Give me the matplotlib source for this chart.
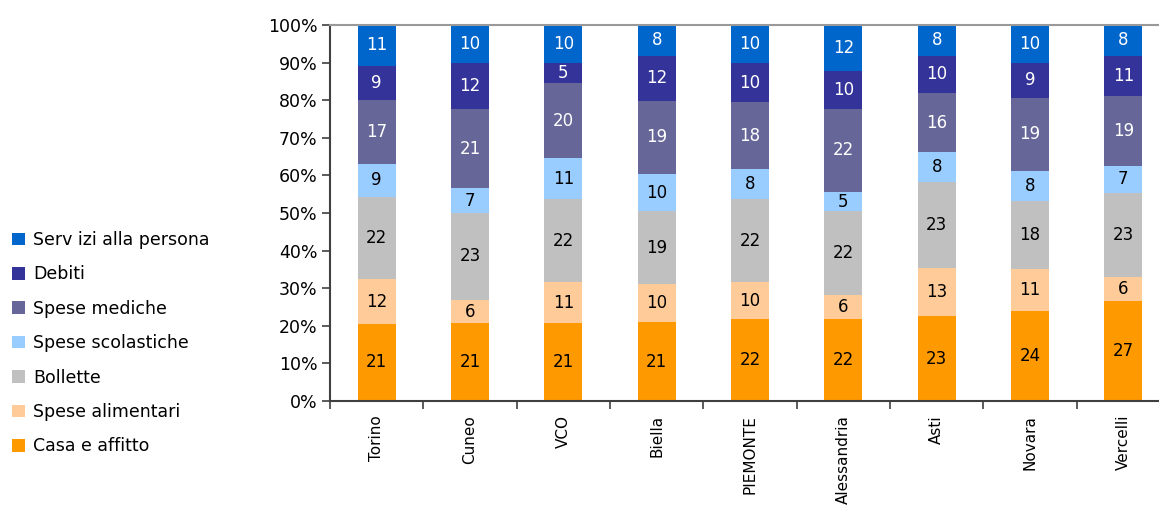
import matplotlib
matplotlib.use("Agg")
import matplotlib.pyplot as plt
from matplotlib.patches import Patch
import numpy as np

plt.rcParams['font.family'] = ['DejaVu Sans']

categories = ["Torino", "Cuneo", "VCO", "Biella", "PIEMONTE", "Alessandria", "Asti", "Novara", "Vercelli"]
series_names = ["Casa e affitto", "Spese alimentari", "Bollette", "Spese scolastiche",
                "Spese mediche", "Debiti", "Serv izi alla persona"]
colors = ["#FF9900", "#FFCC99", "#C0C0C0", "#99CCFF", "#666699", "#333399", "#0066CC"]
text_colors = ["#000000", "#000000", "#000000", "#000000", "#FFFFFF", "#FFFFFF", "#FFFFFF"]

casa = [20.5, 20.7, 20.7, 21.0, 21.8, 21.8, 22.6, 23.9, 26.6]
alimentari = [11.9, 6.2, 10.9, 10.1, 9.8, 6.4, 12.8, 11.2, 6.4]
bollette = [21.9, 23.1, 22.1, 19.4, 22.1, 22.3, 22.8, 18.1, 22.6]
scolastiche = [8.7, 6.6, 10.9, 9.9, 8.0, 5.1, 8.0, 8.0, 7.2]
mediche = [17.1, 21.1, 20.0, 19.4, 17.8, 22.1, 15.7, 19.4, 18.6]
debiti = [9.0, 12.2, 5.3, 12.0, 10.4, 10.1, 9.9, 9.3, 10.7]
servizi = [10.9, 10.1, 10.1, 8.2, 10.1, 12.2, 8.2, 10.1, 8.2]

lab_casa = [21, 21, 21, 21, 22, 22, 23, 24, 27]
lab_alimentari = [12, 6, 11, 10, 10, 6, 13, 11, 6]
lab_bollette = [22, 23, 22, 19, 22, 22, 23, 18, 23]
lab_scolastiche = [9, 7, 11, 10, 8, 5, 8, 8, 7]
lab_mediche = [17, 21, 20, 19, 18, 22, 16, 19, 19]
lab_debiti = [9, 12, 5, 12, 10, 10, 10, 9, 11]
lab_servizi = [11, 10, 10, 8, 10, 12, 8, 10, 8]

data = np.array([casa, alimentari, bollette, scolastiche, mediche, debiti, servizi], dtype=float)
labels = [lab_casa, lab_alimentari, lab_bollette, lab_scolastiche, lab_mediche, lab_debiti, lab_servizi]
pct = data / data.sum(axis=0) * 100

W, H = 1159, 507
fig = plt.figure(figsize=(W / 100, H / 100), dpi=100)
ax = fig.add_axes([330 / W, (H - 401) / H, 840 / W, 376 / H])

x = np.arange(len(categories))
bottom = np.zeros(len(categories))
handles = []
for i in range(len(series_names)):
    bars = ax.bar(x, pct[i], bottom=bottom, width=0.41, color=colors[i], linewidth=0)
    for j, b in enumerate(bars):
        ax.text(b.get_x() + b.get_width() / 2, bottom[j] + pct[i][j] / 2, str(labels[i][j]),
                ha='center', va='center', fontsize=12, color=text_colors[i])
    bottom += pct[i]
    handles.append(Patch(facecolor=colors[i], edgecolor='none', label=series_names[i]))

ax.set_xlim(-0.5, len(categories) - 0.5)
ax.set_ylim(0, 100)
ax.set_yticks(np.arange(0, 101, 10))
ax.set_yticklabels([f"{v}%" for v in range(0, 101, 10)], fontsize=12.5, color='#000000')
ax.set_xticks(x)
ax.set_xticklabels(categories, rotation=90, fontsize=11, va='top')
ax.set_xticks(np.arange(-0.5, len(categories), 1), minor=True)
ax.tick_params(axis='x', which='major', length=0, pad=10)
ax.tick_params(axis='x', which='minor', length=6, width=1.2, color='#404040', direction='out')
ax.tick_params(axis='y', length=6, width=1.2, color='#404040', direction='out', pad=3)

for s in ['left', 'bottom']:
    ax.spines[s].set_color('#404040')
    ax.spines[s].set_linewidth(1.5)
ax.spines['top'].set_color('#999999')
ax.spines['top'].set_linewidth(1.5)
ax.spines['right'].set_visible(False)

leg = fig.legend(handles=handles[::-1], loc='upper left', bbox_to_anchor=(5 / W, 1 - 224 / H),
                 frameon=False, fontsize=12.5, handlelength=0.75, handleheight=0.75,
                 handletextpad=0.45, labelspacing=0.945, borderaxespad=0)

fig.savefig("out.png", dpi=100)
